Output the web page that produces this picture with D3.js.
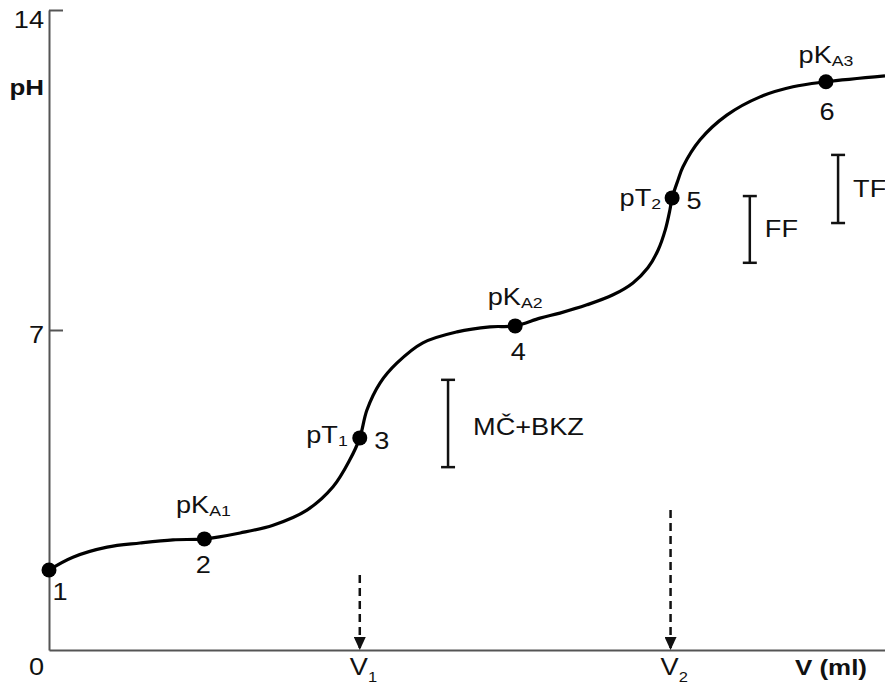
<!DOCTYPE html>
<html>
<head>
<meta charset="utf-8">
<title>Titrační křivka</title>
<script src="https://d3js.org/d3.v7.min.js"></script>
<style>
  body { margin: 0; background: #fff; }
  svg { display: block; font-family: "Liberation Sans", Arial, sans-serif; }
</style>
</head>
<body>
<script>
// titration curve (V in ml, pH)
var curveV  = [0, 0.77, 1.87, 2.93, 3.99, 5, 6.15, 7.21, 8.30, 9.14, 9.68, 10, 10.23, 10.65, 11.20, 12.03, 13.13, 14.19, 15, 15.80, 16.44, 17.31, 18.15, 18.79, 19.27, 19.60, 19.83, 19.98, 20.05, 20.24, 20.40, 20.95, 21.81, 22.88, 23.94, 25, 26.9];
var curvePH = [1.75, 2.03, 2.25, 2.34, 2.41, 2.43, 2.56, 2.73, 3.06, 3.57, 4.16, 4.64, 5.25, 5.84, 6.28, 6.72, 6.96, 7.07, 7.09, 7.26, 7.37, 7.55, 7.77, 8.03, 8.36, 8.75, 9.19, 9.63, 9.89, 10.28, 10.57, 11.16, 11.70, 12.10, 12.32, 12.43, 12.56];

// marked points
var pointNum  = ["1", "2", "3", "4", "5", "6"];
var pointV    = [0, 5, 10, 15, 20.05, 25];
var pointPH   = [1.75, 2.43, 4.64, 7.09, 9.89, 12.43];
var pointName = ["", "pK|A1", "pT|1", "pK|A2", "pT|2", "pK|A3"];

// indicator ranges
var rangeName = ["MČ+BKZ", "FF", "TF"];
var rangeV    = [12.84, 22.55, 25.39];
var rangeLow  = [4.0, 8.47, 9.34];
var rangeHigh = [5.91, 9.93, 10.83];

// equivalence volumes
var eqName  = ["V|1", "V|2"];
var eqV     = [10, 20];
var eqTopPH = [1.64, 3.06];

var yTicks = [7, 14];

var W = 885, H = 688;
var SX = 1.18; // text in the picture is stretched sideways
var FS = 23;

var x = d3.scaleLinear().domain([0, 26.9]).range([49, 885]);
var y = d3.scaleLinear().domain([0, 14]).range([650, 10]);

var svg = d3.select("body").append("svg")
    .attr("width", W)
    .attr("height", H);

svg.append("defs").append("marker")
    .attr("id", "head")
    .attr("viewBox", "0 0 13 12")
    .attr("refX", 13).attr("refY", 6)
    .attr("markerWidth", 13).attr("markerHeight", 12)
    .attr("markerUnits", "userSpaceOnUse")
    .attr("orient", "auto")
  .append("path")
    .attr("d", "M0,0 L13,6 L0,12 Z")
    .attr("fill", "#111");

function label(px, py, str, opt) {
  opt = opt || {};
  var parts = str.split("|");
  var g = svg.append("g").attr("transform", "translate(" + px + "," + py + ") scale(" + SX + ",1)");
  var t = g.append("text")
      .attr("text-anchor", opt.anchor || "start")
      .attr("font-size", opt.size || FS)
      .attr("font-weight", opt.bold ? "bold" : "normal")
      .attr("fill", "#111");
  t.append("tspan").text(parts[0]);
  if (parts[1]) {
    t.append("tspan")
        .attr("font-size", opt.subSize || 15)
        .attr("dy", opt.subDy || 4)
        .text(parts[1]);
  }
  return t;
}

// axes
var yAxis = d3.axisLeft(y).tickValues(yTicks).tickSize(-14).tickSizeOuter(0);
var gy = svg.append("g").attr("transform", "translate(" + x(0) + ",0)").call(yAxis);
gy.selectAll("path, line").attr("stroke", "#555").attr("stroke-width", 2);
gy.selectAll(".tick text").remove();

var xAxis = d3.axisBottom(x).tickValues([]).tickSizeOuter(0);
var gx = svg.append("g").attr("transform", "translate(0," + y(0) + ")").call(xAxis);
gx.selectAll("path").attr("stroke", "#555").attr("stroke-width", 2);

yTicks.forEach(function(v) {
  label(x(0) - 5, y(v) + (v === 14 ? 18 : 13), String(v), { anchor: "end" });
});
label(x(0) - 5, y(0) + 25, "0", { anchor: "end" });
label(x(0) - 5, y(12.3) + 7, "pH", { anchor: "end", bold: true, size: 22 });
label(867, y(0) + 25, "V (ml)", { anchor: "end", bold: true, size: 22 });

// equivalence arrows
eqV.forEach(function(v, i) {
  svg.append("line")
      .attr("x1", x(v)).attr("x2", x(v))
      .attr("y1", y(eqTopPH[i])).attr("y2", y(0))
      .attr("stroke", "#111")
      .attr("stroke-width", 2.5)
      .attr("stroke-dasharray", "8,5")
      .attr("marker-end", "url(#head)");
  label(x(v) - 10, y(0) + 25, eqName[i], { subDy: 7, subSize: 14 });
});

// indicator ranges
var rangeDy = [12, 8, 8];
rangeName.forEach(function(n, i) {
  var cx = x(rangeV[i]);
  var g = svg.append("g").attr("stroke", "#111").attr("stroke-width", 2.5);
  g.append("line").attr("x1", cx).attr("x2", cx).attr("y1", y(rangeLow[i])).attr("y2", y(rangeHigh[i]));
  g.append("line").attr("x1", cx - 7).attr("x2", cx + 7).attr("y1", y(rangeLow[i])).attr("y2", y(rangeLow[i]));
  g.append("line").attr("x1", cx - 7).attr("x2", cx + 7).attr("y1", y(rangeHigh[i])).attr("y2", y(rangeHigh[i]));
  var mid = (y(rangeLow[i]) + y(rangeHigh[i])) / 2;
  label(cx + (i === 0 ? 25 : 15), mid + rangeDy[i], n);
});

// curve
var line = d3.line()
    .x(function(d) { return x(d[0]); })
    .y(function(d) { return y(d[1]); })
    .curve(d3.curveCatmullRom.alpha(0.5));

svg.append("path")
    .datum(d3.zip(curveV, curvePH))
    .attr("d", line)
    .attr("fill", "none")
    .attr("stroke", "#000")
    .attr("stroke-width", 3.2);

svg.selectAll("circle.pt")
    .data(d3.zip(pointV, pointPH))
  .enter().append("circle")
    .attr("class", "pt")
    .attr("cx", function(d) { return x(d[0]); })
    .attr("cy", function(d) { return y(d[1]); })
    .attr("r", 7.5)
    .attr("fill", "#000");

// point numbers and names
var numOff  = [[11, 30], [-1, 34], [22, 11], [3, 34], [22, 11], [1, 38]];
var nameOff = [null, [-1, -26, "middle"], [-12, 5, "end"], [0, -21, "middle"], [-11, 8, "end"], [0, -19, "middle"]];
pointNum.forEach(function(n, i) {
  var px = x(pointV[i]), py = y(pointPH[i]);
  label(px + numOff[i][0], py + numOff[i][1], n, { anchor: "middle" });
  if (nameOff[i]) {
    label(px + nameOff[i][0], py + nameOff[i][1], pointName[i], { anchor: nameOff[i][2], subDy: 3 });
  }
});
</script>
</body>
</html>
